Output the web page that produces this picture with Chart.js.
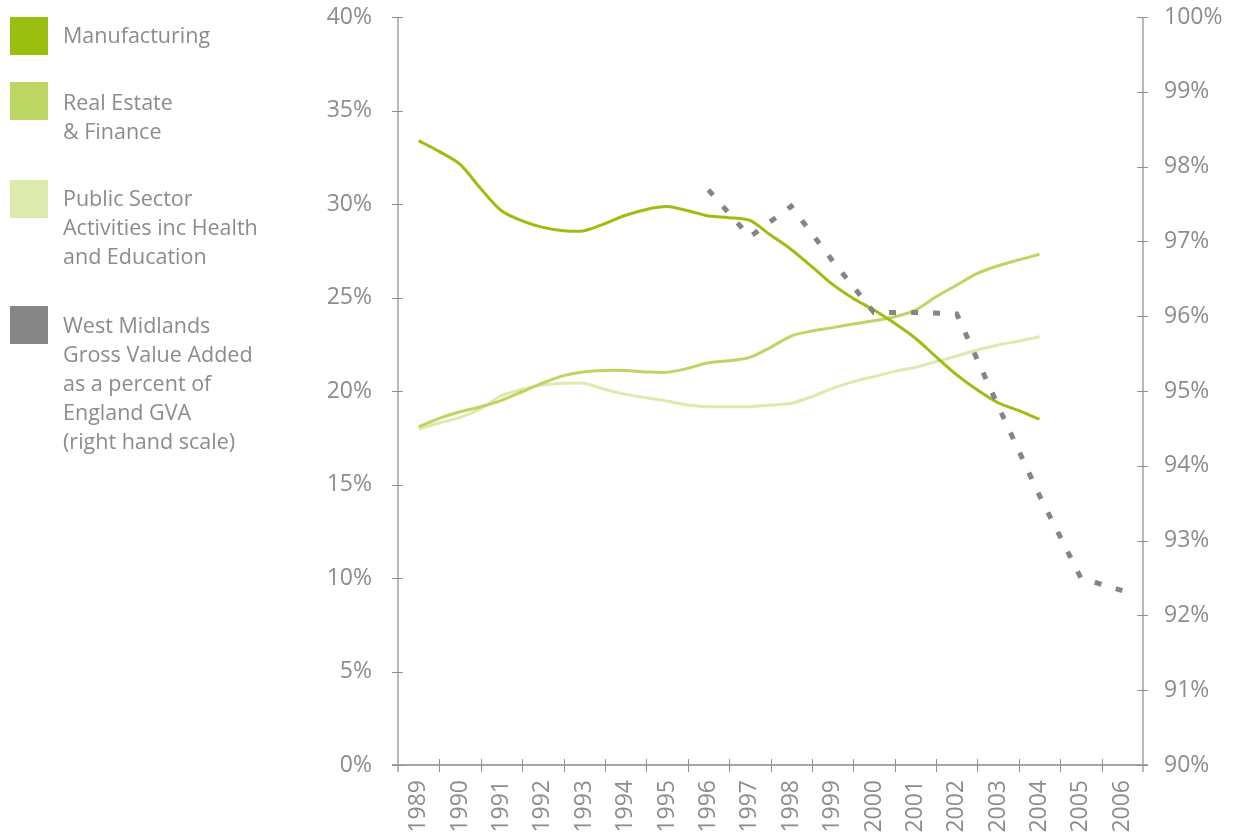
<!DOCTYPE html>
<html>
<head>
<meta charset="utf-8">
<script src="https://cdn.jsdelivr.net/npm/chart.js@4"></script>
<style>
  html, body { margin: 0; padding: 0; background: #fff; }
  #wrap { position: relative; width: 1239px; height: 834px; font-family: "Open Sans", sans-serif; color: #8c8c8c; }
  #chart { position: absolute; left: 0; top: 0; }
  .sw { position: absolute; left: 10px; width: 38px; height: 38px; }
  .lt { position: absolute; left: 63px; font-size: 21.5px; line-height: 29px; white-space: nowrap; }
</style>
</head>
<body>
<div id="wrap">
  <canvas id="chart" width="1239" height="834"></canvas>
  <div class="sw" style="top:17px;background:#9abf11"></div>
  <div class="lt" style="top:20px">Manufacturing</div>
  <div class="sw" style="top:82px;background:#bdd562"></div>
  <div class="lt" style="top:87px">Real Estate<br>&amp; Finance</div>
  <div class="sw" style="top:180px;background:#ddeaae"></div>
  <div class="lt" style="top:183px">Public Sector<br>Activities inc Health<br>and Education</div>
  <div class="sw" style="top:306px;background:#858585"></div>
  <div class="lt" style="top:310px">West Midlands<br>Gross Value Added<br>as a percent of<br>England GVA<br>(right hand scale)</div>
</div>
<script>
// --- VERİ ---
const years = ["1989","1990","1991","1992","1993","1994","1995","1996","1997",
  "1998","1999","2000","2001","2002","2003","2004","2005","2006"];

// yarım yıllık okuma noktaları (sektör payları, %)
const sectorX = [1989,1989.5,1990,1990.5,1991,1991.5,1992,1992.5,1993,1993.5,
  1994,1994.5,1995,1995.5,1996,1996.5,1997,1997.5,1998,1998.5,1999,1999.5,
  2000,2000.5,2001,2001.5,2002,2002.5,2003,2003.5,2004];

const manufacturing = [33.39,32.8,32.12,30.82,29.64,29.1,28.75,28.57,28.57,28.95,
  29.4,29.71,29.86,29.64,29.36,29.27,29.12,28.34,27.57,26.65,25.7,24.95,
  24.33,23.62,22.82,21.83,20.86,20.05,19.37,18.95,18.49];

const realEstate = [18.09,18.54,18.89,19.16,19.5,19.96,20.43,20.82,21.03,21.1,
  21.1,21.02,21.0,21.21,21.51,21.62,21.8,22.33,22.94,23.21,23.39,23.58,
  23.76,23.97,24.33,25.04,25.67,26.29,26.7,27.01,27.31];

const publicSector = [17.97,18.29,18.59,19.05,19.75,20.09,20.32,20.41,20.41,20.09,
  19.82,19.64,19.47,19.25,19.16,19.16,19.16,19.25,19.34,19.7,20.14,20.5,
  20.77,21.05,21.27,21.57,21.87,22.19,22.46,22.67,22.9];

// West Midlands GVA / England GVA (sağ eksen, %)
const gvaX = [1996,1997,1998,1999,2000,2001,2002,2003,2004,2005,2006];
const gvaShare = [97.69,97.06,97.47,96.74,96.05,96.05,96.03,94.8,93.6,92.5,92.33];

const leftTicks = [0,5,10,15,20,25,30,35,40];
const rightTicks = [90,91,92,93,94,95,96,97,98,99,100];

const textGrey = "#8c8c8c";
const axisGrey = "#b9b9b9";
const tickGrey = "#8f8f8f";

function pts(xs, ys) {
  return xs.map((x, i) => ({ x: x, y: ys[i] }));
}

// --- EKSEN ÇİZGİLERİ + ÇAPRAZ TİKLER ---
const axisPlugin = {
  id: "axisMarks",
  afterDraw(chart) {
    const ctx = chart.ctx;
    const a = chart.chartArea;
    const yl = chart.scales.y;
    const yr = chart.scales.y1;
    ctx.save();
    // eksen çizgileri
    ctx.strokeStyle = axisGrey;
    ctx.lineWidth = 2;
    ctx.beginPath();
    ctx.moveTo(a.left, a.top); ctx.lineTo(a.left, a.bottom + 7);
    ctx.moveTo(a.right, a.top); ctx.lineTo(a.right, a.bottom + 7);
    ctx.stroke();
    ctx.strokeStyle = "#a5a5a5";
    ctx.beginPath();
    ctx.moveTo(a.left - 6, a.bottom); ctx.lineTo(a.right + 5, a.bottom);
    ctx.stroke();
    // tikler
    ctx.strokeStyle = tickGrey;
    ctx.lineWidth = 1;
    ctx.beginPath();
    yl.ticks.forEach(t => {
      const p = Math.round(yl.getPixelForValue(t.value)) + 0.5;
      ctx.moveTo(a.left - 6, p); ctx.lineTo(a.left + 5, p);
    });
    yr.ticks.forEach(t => {
      const p = Math.round(yr.getPixelForValue(t.value)) + 0.5;
      ctx.moveTo(a.right - 6, p); ctx.lineTo(a.right + 5, p);
    });
    const step = (a.right - a.left) / years.length;
    for (let i = 1; i < years.length; i++) {
      const p = Math.round(a.left + i * step) + 0.5;
      ctx.moveTo(p, a.bottom - 6); ctx.lineTo(p, a.bottom + 7);
    }
    ctx.stroke();
    ctx.restore();
  }
};

const tickFont = { family: "'Open Sans', sans-serif", size: 23 };

new Chart(document.getElementById("chart"), {
  type: "line",
  data: {
    labels: years,
    datasets: [
      {
        label: "West Midlands GVA as % of England GVA",
        data: pts(gvaX, gvaShare),
        xAxisID: "xd", yAxisID: "y1",
        borderColor: "#858585", borderWidth: 5,
        borderDash: [7, 15], borderCapStyle: "butt",
        pointRadius: 0, tension: 0, order: 0
      },
      {
        label: "Manufacturing",
        data: pts(sectorX, manufacturing),
        xAxisID: "xd", yAxisID: "y",
        borderColor: "#9abf11", borderWidth: 3,
        pointRadius: 0, tension: 0.3, order: 1
      },
      {
        label: "Real Estate & Finance",
        data: pts(sectorX, realEstate),
        xAxisID: "xd", yAxisID: "y",
        borderColor: "#bdd562", borderWidth: 3,
        pointRadius: 0, tension: 0.3, order: 2
      },
      {
        label: "Public Sector Activities inc Health and Education",
        data: pts(sectorX, publicSector),
        xAxisID: "xd", yAxisID: "y",
        borderColor: "#ddeaae", borderWidth: 3,
        pointRadius: 0, tension: 0.3, order: 3
      }
    ]
  },
  options: {
    responsive: false,
    animation: false,
    layout: { padding: 0 },
    plugins: { legend: { display: false }, tooltip: { enabled: false } },
    scales: {
      x: {
        type: "category",
        position: "bottom",
        offset: true,
        grid: { display: false, drawTicks: false, offset: true },
        border: { display: false },
        ticks: {
          color: textGrey, font: tickFont,
          minRotation: 90, maxRotation: 90, padding: 15, autoSkip: false
        },
        afterFit: s => { s.height = 69; s.paddingLeft = 0; s.paddingRight = 0; }
      },
      xd: {
        type: "linear",
        display: false,
        min: 1988.5,
        max: 2006.5
      },
      y: {
        position: "left",
        min: 0, max: 40,
        afterBuildTicks: s => { s.ticks = leftTicks.map(v => ({ value: v })); },
        grid: { display: false, drawTicks: false },
        border: { display: false },
        ticks: { color: textGrey, font: tickFont, padding: 26, callback: v => v + "%" },
        afterFit: s => { s.width = 398; s.paddingTop = 17; s.paddingBottom = 0; }
      },
      y1: {
        position: "right",
        min: 90, max: 100,
        afterBuildTicks: s => { s.ticks = rightTicks.map(v => ({ value: v })); },
        grid: { display: false, drawTicks: false },
        border: { display: false },
        ticks: { color: textGrey, font: tickFont, padding: 21, callback: v => v + "%" },
        afterFit: s => { s.width = 96; s.paddingTop = 17; s.paddingBottom = 0; }
      }
    }
  },
  plugins: [axisPlugin]
});
</script>
</body>
</html>
